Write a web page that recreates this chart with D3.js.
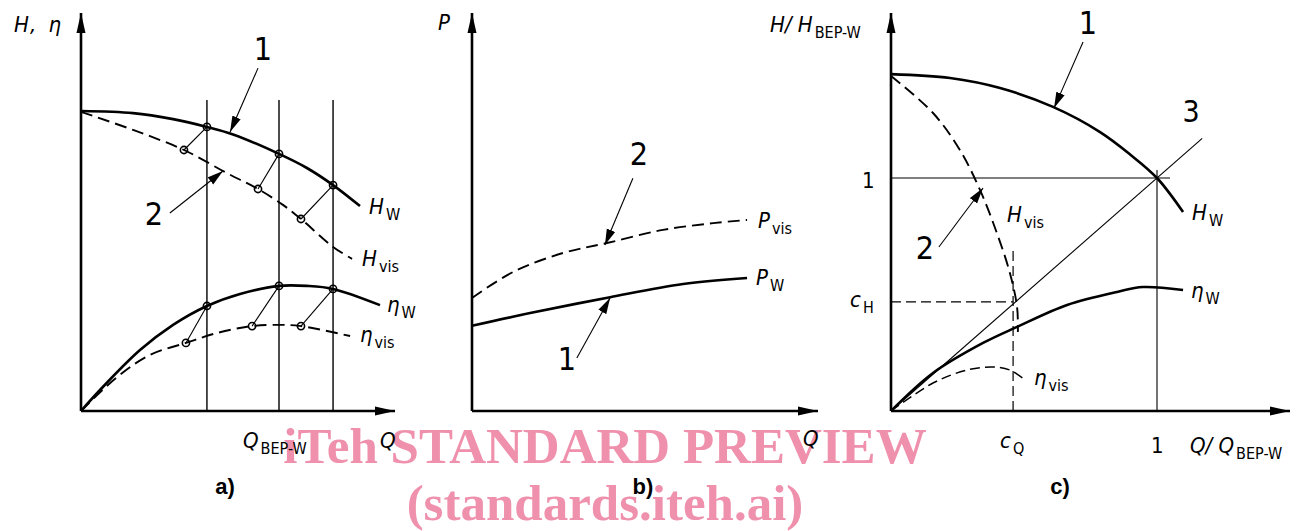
<!DOCTYPE html>
<html>
<head>
<meta charset="utf-8">
<script src="https://cdn.jsdelivr.net/npm/d3@7"></script>
<style>
  body { margin: 0; background: #fff; }
  svg text { font-family: "Liberation Sans Narrow", "DejaVu Sans Condensed", "DejaVu Sans", sans-serif; fill: #000; }
  .it { font-style: italic; }
</style>
</head>
<body>
<svg id="chart"></svg>
<script>
// ---- panel a) : x in Q/Q_BEP-W, y relative to shut-off head
const aHw   = [[0,1.0],[.263,.993],[.465,.973],[.636,.947],[.768,.922],[1.0,.857],[1.141,.81],[1.273,.753],[1.409,.683]];
const aHvis = [[0,.997],[.263,.937],[.520,.870],[.737,.793],[.894,.740],[1.020,.687],[1.111,.640],[1.273,.547],[1.369,.507]];
const aEtaW = [[0,0],[.096,.07],[.298,.203],[.465,.287],[.636,.350],[.803,.390],[1.0,.417],[1.141,.417],[1.273,.407],[1.510,.353]];
const aEtaV = [[0,0],[.182,.113],[.348,.187],[.530,.227],[.687,.260],[.864,.283],[1.020,.287],[1.111,.283],[1.359,.25]];
const aVerticals = [.636, 1.0, 1.273];
// conversion pairs water -> viscous
const aPairs = [
  [[.636,.947],[.520,.870]], [[1.0,.857],[.894,.740]], [[1.273,.753],[1.111,.640]],
  [[.636,.350],[.530,.227]], [[1.0,.417],[.864,.283]], [[1.273,.407],[1.111,.283]]
];

// ---- panel b) : power
const bPvis = [[0,.284],[.118,.349],[.263,.397],[.390,.422],[.552,.455],[.697,.472],[.795,.480]];
const bPw   = [[0,.214],[.168,.246],[.399,.286],[.610,.319],[.795,.334]];

// ---- panel c) : normalised to BEP of water
const cHw   = [[0,1.446],[.222,1.429],[.410,1.386],[.609,1.305],[.786,1.197],[.9,1.1],[1.0,1.0],[1.098,.854]];
const cHvis = [[0,1.438],[.158,1.279],[.259,1.120],[.335,.948],[.398,.764],[.447,.592],[.474,.446],[.477,.339]];
const cEtaW = [[0,0],[.158,.163],[.346,.292],[.474,.361],[.662,.455],[.850,.511],[.947,.532],[1.098,.519]];
const cEtaV = [[0,0],[.158,.120],[.286,.176],[.383,.189],[.447,.176],[.504,.133]];
const cQ = .459, cH = .468;

const W = 1305, H = 531;
const svg = d3.select("#chart").attr("width", W).attr("height", H);

const defs = svg.append("defs");
defs.append("marker").attr("id", "axArrow")
  .attr("viewBox", "-20 -5 20 10").attr("refX", 0).attr("refY", 0)
  .attr("markerWidth", 20).attr("markerHeight", 10)
  .attr("markerUnits", "userSpaceOnUse").attr("orient", "auto")
  .append("path").attr("d", "M0,0L-20,-4.5L-20,4.5Z").attr("fill", "#000");
defs.append("marker").attr("id", "ptArrow")
  .attr("viewBox", "-16 -5 16 10").attr("refX", 0).attr("refY", 0)
  .attr("markerWidth", 16).attr("markerHeight", 10)
  .attr("markerUnits", "userSpaceOnUse").attr("orient", "auto")
  .append("path").attr("d", "M0,0L-16,-4.5L-16,4.5Z").attr("fill", "#000");

// watermark underneath
const wm = svg.append("g");
[["iTeh STANDARD PREVIEW", 463], ["(standards.iteh.ai)", 520]].forEach(r => {
  wm.append("text").attr("x", 605).attr("y", r[1]).attr("text-anchor", "middle")
    .style("font-family", "'Liberation Serif', 'Times New Roman', serif")
    .style("font-weight", "bold").style("font-size", "51px")
    .style("fill", "#ef90ac").text(r[0]);
});

const curve = d3.curveCatmullRom.alpha(0.5);

function panel(xr, yr) {
  const sx = d3.scaleLinear().domain([0, 1]).range(xr);
  const sy = d3.scaleLinear().domain([0, 1]).range(yr);
  const g = svg.append("g");
  const line = d3.line().x(d => sx(d[0])).y(d => sy(d[1])).curve(curve);
  return { sx, sy, g, line };
}

function drawCurve(p, data, width, dash) {
  p.g.append("path").datum(data).attr("d", p.line)
    .attr("fill", "none").attr("stroke", "#000").attr("stroke-width", width)
    .attr("stroke-dasharray", dash || null).attr("stroke-linejoin", "round");
}

function seg(p, a, b, width, dash, marker) {
  p.g.append("line")
    .attr("x1", p.sx(a[0])).attr("y1", p.sy(a[1]))
    .attr("x2", p.sx(b[0])).attr("y2", p.sy(b[1]))
    .attr("stroke", "#000").attr("stroke-width", width)
    .attr("stroke-dasharray", dash || null)
    .attr("marker-end", marker ? "url(#" + marker + ")" : null);
}

function axes(p, xEnd, yEnd) {
  seg(p, [0, 0], [xEnd, 0], 2.6, null, "axArrow");
  seg(p, [0, 0], [0, yEnd], 2.6, null, "axArrow");
}

// label: main part italic, subscript upright
function label(g, x, y, main, sub, size, italicMain) {
  const t = g.append("text").attr("x", x).attr("y", y).style("font-size", (size || 22) + "px");
  t.append("tspan").attr("class", italicMain === false ? null : "it").text(main);
  if (sub) t.append("tspan").attr("dx", 2).attr("dy", 6).style("font-size", "16px").style("font-style", "normal").text(sub);
  return t;
}

function num(g, x, y, s, size) {
  g.append("text").attr("x", x).attr("y", y).attr("text-anchor", "middle")
    .style("font-size", (size || 32) + "px").text(s);
}

function caption(x, s) {
  svg.append("text").attr("x", x).attr("y", 494).attr("text-anchor", "middle")
    .style("font-family", "'Liberation Sans', Arial, sans-serif")
    .style("font-weight", "bold").style("font-size", "22px").text(s);
}

// ================= a)
const pa = panel([81, 279], [411, 111]);
aVerticals.forEach(v => seg(pa, [v, 0], [v, 1.037], 1.4));
drawCurve(pa, aHw, 2.6);
drawCurve(pa, aHvis, 1.9, "12,6");
drawCurve(pa, aEtaW, 2.6);
drawCurve(pa, aEtaV, 1.9, "12,6");
aPairs.forEach(pr => seg(pa, pr[0], pr[1], 1.1));
pa.g.selectAll("circle.m").data(aPairs.flat()).enter().append("circle")
  .attr("cx", d => pa.sx(d[0])).attr("cy", d => pa.sy(d[1])).attr("r", 3.6)
  .attr("fill", "none").attr("stroke", "#000").attr("stroke-width", 1.6);
axes(pa, 1.586, 1.327);
seg(pa, [.894, 1.143], [.753, .93], 1.1, null, "ptArrow");
seg(pa, [.449, .66], [.717, .80], 1.1, null, "ptArrow");
num(pa.g, 263, 60, "1");
num(pa.g, 154, 225, "2");
label(pa.g, 14, 32, "H,  η").attr("word-spacing", 4).style("letter-spacing", "1px");
label(pa.g, 369, 214, "H", "W");
label(pa.g, 362, 266, "H", "vis");
label(pa.g, 387, 312, "η", "W");
label(pa.g, 360, 342, "η", "vis");
label(pa.g, 243, 448, "Q", "BEP-W");
label(pa.g, 380, 448, "Q");
caption(225, "a)");

// ================= b)
const pb = panel([472, 818], [411, 13]);
drawCurve(pb, bPvis, 1.9, "12,6");
drawCurve(pb, bPw, 2.6);
axes(pb, 1.0, 1.0);
seg(pb, [.465, .585], [.384, .417], 1.1, null, "ptArrow");
seg(pb, [.303, .133], [.399, .284], 1.1, null, "ptArrow");
num(pb.g, 639, 165, "2");
num(pb.g, 567, 370, "1");
label(pb.g, 438, 30, "P");
label(pb.g, 758, 228, "P", "vis");
label(pb.g, 756, 285, "P", "W");
label(pb.g, 803, 446, "Q");
caption(643, "b)");

// ================= c)
const pc = panel([891, 1157], [411, 178]);
seg(pc, [0, 1], [1.049, 1], 1.1);
seg(pc, [1, 0], [1, 1.034], 1.1);
seg(pc, [0, 0], [1.17, 1.17], 1.1);
seg(pc, [0, cH], [cQ, cH], 1.2, "10,5");
seg(pc, [cQ, 0], [cQ, .70], 1.2, "10,5");
drawCurve(pc, cHw, 2.6);
drawCurve(pc, cHvis, 1.9, "12,6");
drawCurve(pc, cEtaW, 2.6);
drawCurve(pc, cEtaV, 1.5, "10,5");
axes(pc, 1.5, 1.708);
seg(pc, [.722, 1.584], [.613, 1.30], 1.1, null, "ptArrow");
seg(pc, [.180, .704], [.346, .957], 1.1, null, "ptArrow");
num(pc.g, 1088, 34, "1");
num(pc.g, 925, 259, "2");
num(pc.g, 1191, 122, "3", 30);
label(pc.g, 770, 32, "H/ H", "BEP-W");
label(pc.g, 1192, 220, "H", "W");
label(pc.g, 1007, 222, "H", "vis");
label(pc.g, 1191, 298, "η", "W");
label(pc.g, 1034, 385, "η", "vis");
label(pc.g, 850, 307, "c", "H");
label(pc.g, 1000, 448, "c", "Q");
label(pc.g, 862, 188, "1", null, 22, false);
label(pc.g, 1151, 453, "1", null, 22, false);
label(pc.g, 1190, 453, "Q/ Q", "BEP-W");
caption(1060, "c)");
</script>
</body>
</html>
